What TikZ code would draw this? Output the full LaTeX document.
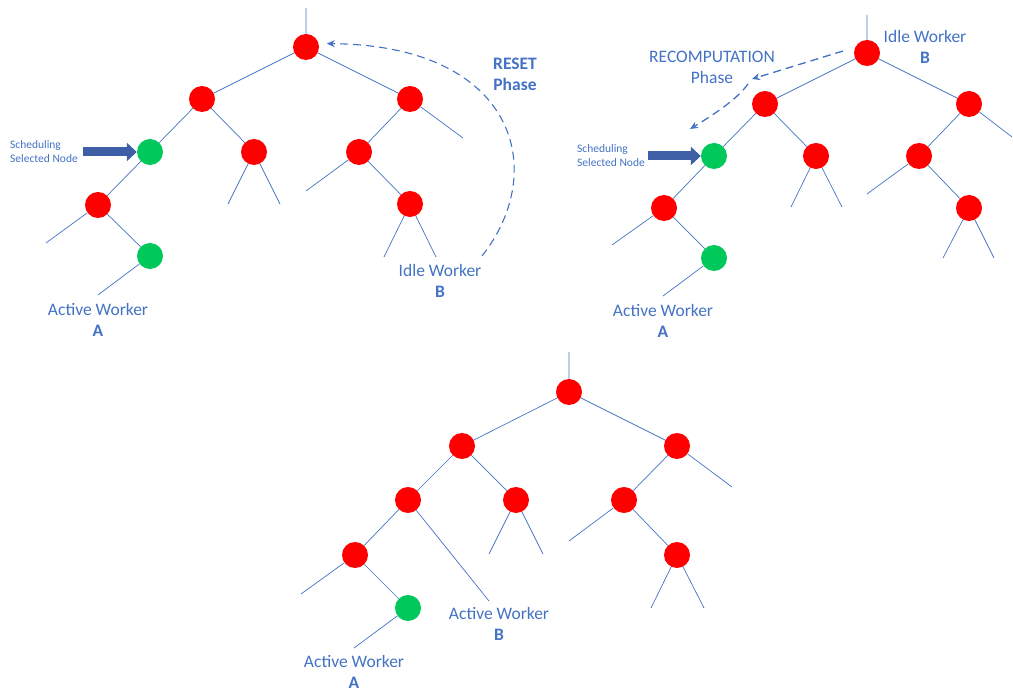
\documentclass[tikz,border=0pt]{standalone}
\usepackage{fontspec}
\setmainfont{Carlito}
\usetikzlibrary{arrows.meta}
\definecolor{lblue}{HTML}{4472C4}
\definecolor{nred}{HTML}{FF0000}
\definecolor{ngreen}{HTML}{00C85A}
\definecolor{barrow}{RGB}{62,94,166}
\begin{document}
\begin{tikzpicture}[x=1pt,y=-1pt,
 rn/.style={circle,fill=nred,minimum size=26pt,inner sep=0pt},
 gn/.style={circle,fill=ngreen,minimum size=26pt,inner sep=0pt},
 edge/.style={draw=lblue,line width=0.7pt},
 lbl/.style={text=lblue,font=\fontsize{17.5}{21}\selectfont,align=center,inner sep=0pt},
 sched/.style={text=lblue,font=\fontsize{11.5}{14}\selectfont,align=left,anchor=west,inner sep=0pt},
 dasharrow/.style={draw=lblue,line width=1.3pt,dash pattern=on 8pt off 5pt,-{Stealth[length=8pt,width=7pt]}},
 blockarrow/.style={draw=barrow,line width=9pt,-{Triangle[length=10pt,width=18pt]}}
]
\useasboundingbox (0,0) rectangle (1013,692);

% ---------------- Tree 1 ----------------
\coordinate (a0s) at (306,8);
\coordinate (a2r) at (463,138);
\coordinate (a4l) at (228,204);
\coordinate (a4r) at (280,204);
\coordinate (a5l) at (306,191);
\coordinate (a6l) at (384,257);
\coordinate (a6r) at (436,257);
\coordinate (a7l) at (46,243);
\coordinate (a8l) at (98,295);
\node[rn] (a0) at (306,47) {};
\node[rn] (a1) at (202,99) {};
\node[rn] (a2) at (410,99) {};
\node[gn] (a3) at (150,152) {};
\node[rn] (a4) at (254,152) {};
\node[rn] (a5) at (359,152) {};
\node[rn] (a6) at (410,204) {};
\node[rn] (a7) at (98,205) {};
\node[gn] (a8) at (150,256) {};
\path[edge] (a0s) -- (a0) (a0) -- (a1) (a0) -- (a2) (a1) -- (a3) (a1) -- (a4)
  (a2) -- (a5) (a2) -- (a2r) (a4) -- (a4l) (a4) -- (a4r) (a5) -- (a5l) (a5) -- (a6)
  (a6) -- (a6l) (a6) -- (a6r) (a3) -- (a7) (a7) -- (a7l) (a7) -- (a8) (a8) -- (a8l);
\node[lbl] (actA1) at (98,320) {Active Worker\\\textbf{A}};
\node[lbl] (idleB1) at (440,281) {Idle Worker\\\textbf{B}};
\node[lbl,font=\fontsize{17.5}{21}\selectfont\bfseries] (reset) at (515,74) {RESET\\Phase};
\node[sched] (sch1) at (10,152) {Scheduling\\Selected Node};
\coordinate (s1) at (83,152);
\draw[blockarrow] (s1) -- (a3.west);
\coordinate (rs) at (482,256);
\draw[dasharrow,line width=1.1pt,shorten >=8pt] (rs) .. controls (550,170) and (515,45) .. (a0.15);

% ---------------- Tree 2 ----------------
\coordinate (b0s) at (867,15);
\coordinate (b2r) at (1012,137);
\coordinate (b4l) at (791,207);
\coordinate (b4r) at (842,207);
\coordinate (b5l) at (867,194);
\coordinate (b6l) at (943,258);
\coordinate (b6r) at (994,258);
\coordinate (b7l) at (612,245);
\coordinate (b8l) at (663,296);
\node[rn] (b0) at (867,53) {};
\node[rn] (b1) at (765,104) {};
\node[rn] (b2) at (969,104) {};
\node[gn] (b3) at (714,156) {};
\node[rn] (b4) at (816,156) {};
\node[rn] (b5) at (919,156) {};
\node[rn] (b6) at (969,208) {};
\node[rn] (b7) at (664,208) {};
\node[gn] (b8) at (714,258) {};
\path[edge] (b0s) -- (b0) (b0) -- (b1) (b0) -- (b2) (b1) -- (b3) (b1) -- (b4)
  (b2) -- (b5) (b2) -- (b2r) (b4) -- (b4l) (b4) -- (b4r) (b5) -- (b5l) (b5) -- (b6)
  (b6) -- (b6l) (b6) -- (b6r) (b3) -- (b7) (b7) -- (b7l) (b7) -- (b8) (b8) -- (b8l);
\node[lbl] (actA2) at (663,321) {Active Worker\\\textbf{A}};
\node[lbl] (idleB2) at (925,47) {Idle Worker\\\textbf{B}};
\node[lbl] (recomp) at (712,67) {RECOMPUTATION\\Phase};
\node[sched] (sch2) at (577,156) {Scheduling\\Selected Node};
\coordinate (s2) at (648,156);
\draw[blockarrow] (s2) -- (b3.west);
\coordinate (r1s) at (843,51);
\coordinate (r1e) at (752,79);
\coordinate (r2s) at (748,84);
\coordinate (r2e) at (690,129);
\draw[dasharrow] (r1s) -- (r1e);
\draw[dasharrow] (r2s) .. controls (738,98) and (718,112) .. (r2e);

% ---------------- Tree 3 ----------------
\coordinate (c0s) at (569,352);
\coordinate (c2r) at (732,487);
\coordinate (c4l) at (489,554);
\coordinate (c4r) at (543,554);
\coordinate (c5l) at (569,541);
\coordinate (c6l) at (651,608);
\coordinate (c6r) at (704,608);
\coordinate (c3r) at (489,601);
\coordinate (c7l) at (301,594);
\coordinate (c8l) at (354,648);
\node[rn] (c0) at (569,392) {};
\node[rn] (c1) at (462,446) {};
\node[rn] (c2) at (677,446) {};
\node[rn] (c3) at (408,500) {};
\node[rn] (c4) at (516,500) {};
\node[rn] (c5) at (624,500) {};
\node[rn] (c6) at (677,555) {};
\node[rn] (c7) at (355,555) {};
\node[gn] (c8) at (408,608) {};
\path[edge] (c0s) -- (c0) (c0) -- (c1) (c0) -- (c2) (c1) -- (c3) (c1) -- (c4)
  (c2) -- (c5) (c2) -- (c2r) (c4) -- (c4l) (c4) -- (c4r) (c5) -- (c5l) (c5) -- (c6)
  (c6) -- (c6l) (c6) -- (c6r) (c3) -- (c7) (c3) -- (c3r) (c7) -- (c7l) (c7) -- (c8) (c8) -- (c8l);
\node[lbl] (actB3) at (499,624) {Active Worker\\\textbf{B}};
\node[lbl] (actA3) at (354,672) {Active Worker\\\textbf{A}};
\end{tikzpicture}
\end{document}
